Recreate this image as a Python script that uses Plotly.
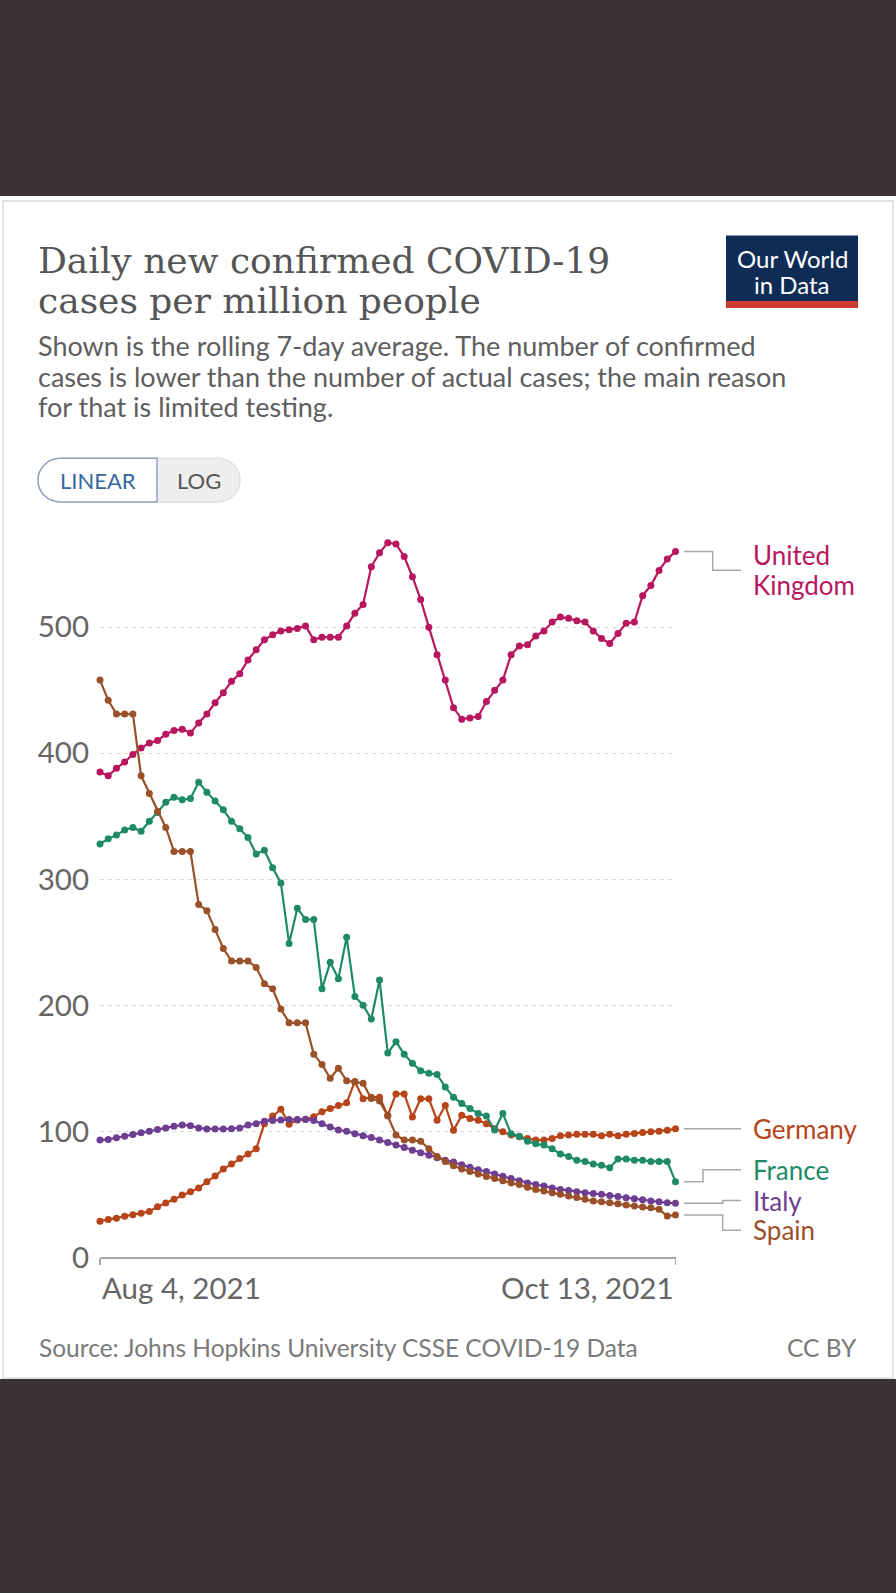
import plotly.graph_objects as go
import pandas as pd

# ---------------- data (daily new confirmed cases per million, 7-day avg) ----------------
start_date = "2021-08-04"
end_date = "2021-10-13"
dates = pd.date_range(start_date, end_date, freq="D")

countries = ["United Kingdom", "Germany", "France", "Italy", "Spain"]

united_kingdom = [385, 382, 388, 393, 399, 404, 408, 410, 415, 418,
                  419, 416, 424, 431, 440, 448, 457, 463, 474, 482,
                  490, 494, 497, 498, 499, 501, 490, 492, 492, 492,
                  501, 511, 518, 548, 559, 567, 566, 556, 540, 522,
                  500, 478, 458, 436, 427, 428, 429, 441, 450, 458,
                  478, 485, 486, 493, 497, 504, 508, 507, 505, 504,
                  497, 491, 487, 495, 503, 504, 525, 533, 545, 554,
                  560]

germany = [28.6, 30, 31, 32.5, 33.8, 35, 36.4, 40, 43, 46,
           49.4, 52, 55, 60, 64.4, 70, 74, 78.4, 82, 86,
           106, 112, 117.5, 105.5, 109, 109.5, 111.5, 115.5, 118, 120.5,
           122.5, 139.5, 125.7, 127, 127, 112.6, 129.6, 129.6, 111.3, 125.7,
           125.7, 108.7, 120.4, 100.8, 112.6, 110, 108.7, 106, 102, 99.5,
           97, 95.6, 94.3, 93, 93, 94.3, 96.4, 97, 97.6, 97.6,
           97.6, 96.4, 97.6, 96.4, 97.6, 98.2, 99, 99.5, 100, 100.8,
           102]

france = [328, 332, 335, 339, 341, 338, 346, 353, 361, 365,
          363, 364, 377, 369, 362, 355, 346, 340, 333, 320,
          323, 309, 297, 249, 277, 268, 268, 213, 234, 221,
          254, 207, 200, 189, 220, 162, 171, 161, 154, 148,
          146, 145, 135, 127, 122, 118, 114, 112, 101, 114,
          98, 96, 92, 90, 89, 86, 82, 80, 77, 76,
          74, 73, 71, 78, 78, 77, 77, 76, 76, 76,
          60]

italy = [93, 93.5, 94.8, 96, 97.4, 98.7, 100, 101.3, 102.6, 104,
         105, 104.4, 102.6, 101.8, 101.8, 101.8, 102, 102.6, 105, 106,
         108, 108.6, 109, 109.4, 109.4, 109.4, 108.6, 106, 103.4, 101,
         100, 98, 96.5, 95, 93, 91, 89, 87, 85, 83,
         81, 79, 77, 75.5, 73.3, 71.5, 69.4, 68, 66, 64.2,
         62.4, 60.8, 59, 57.7, 56.5, 55, 53.8, 53, 52, 51.2,
         50.5, 50, 49, 48.2, 47.2, 46.4, 45.6, 44.6, 44, 43.2,
         42.9]

spain = [458, 442, 431, 431, 431, 382, 368, 354, 341, 322,
         322, 322, 280, 275, 260, 245, 235, 235, 235, 230,
         217, 213, 197, 186, 186, 186, 161, 153, 142, 150,
         140, 139, 138, 126, 124, 112, 97, 93, 93, 92,
         86, 80, 76, 72.6, 70, 68, 66, 64, 62.4, 60.8,
         59, 57.7, 55.6, 53.8, 52.5, 51.2, 50, 48.7, 47.4, 46,
         44.6, 44, 43.2, 42.4, 41.4, 40.6, 39.8, 39.3, 38, 32.7,
         33.5]

y_tick_values = [0, 100, 200, 300, 400, 500]
x_tick_labels = ["Aug 4, 2021", "Oct 13, 2021"]

# ---------------- layout constants (pixels) ----------------
W, H = 896, 1593
PLOT_L, PLOT_R = 100, 675.5
PLOT_T, PLOT_B = 530, 1270
PX_PER_UNIT = 1.273
Y_MAX = (PLOT_B - PLOT_T) / PX_PER_UNIT

def X(px):
    return px / W

def Y(py):
    return 1 - py / H

def V(py):
    """pixel row -> value on the chart's y scale"""
    return (PLOT_B - py) / PX_PER_UNIT

colors = {
    "United Kingdom": "#B8175F",
    "Germany": "#B8441A",
    "France": "#1E8A68",
    "Italy": "#6D3E91",
    "Spain": "#9A5129",
}
series = {
    "United Kingdom": united_kingdom,
    "Germany": germany,
    "France": france,
    "Italy": italy,
    "Spain": spain,
}

SANS = "Lato, 'Open Sans', sans-serif"
SERIF = "'DejaVu Serif', serif"

def tight(lines, glyph_px, line_gap_px):
    """multi-line text whose glyph size and line spacing are set independently"""
    base = line_gap_px / 1.3
    txt = "<br>".join(f'<span style="font-size:{glyph_px}px">{t}</span>' for t in lines)
    return txt, base

fig = go.Figure()
for name in countries:
    fig.add_trace(go.Scatter(
        x=dates, y=series[name], name=name, mode="lines+markers",
        line=dict(color=colors[name], width=2.2),
        marker=dict(color=colors[name], size=7),
        cliponaxis=False, showlegend=False, hoverinfo="skip",
    ))

shapes = []
annotations = []

def rect(x0, y0, x1, y1, fill, line=None, lw=0):
    shapes.append(dict(type="rect", xref="paper", yref="paper",
                       x0=X(x0), x1=X(x1), y0=Y(y1), y1=Y(y0),
                       fillcolor=fill, line=dict(color=line or fill, width=lw),
                       layer="below"))

def rounded_path(x0, y0, x1, y1, rl, rr):
    k = 0.5523
    pts = []
    pts.append(f"M{X(x0+rl):.6f},{Y(y0):.6f}")
    pts.append(f"L{X(x1-rr):.6f},{Y(y0):.6f}")
    if rr:
        pts.append(f"C{X(x1-rr+k*rr):.6f},{Y(y0):.6f} {X(x1):.6f},{Y(y0+rr-k*rr):.6f} {X(x1):.6f},{Y(y0+rr):.6f}")
    pts.append(f"L{X(x1):.6f},{Y(y1-rr):.6f}")
    if rr:
        pts.append(f"C{X(x1):.6f},{Y(y1-rr+k*rr):.6f} {X(x1-rr+k*rr):.6f},{Y(y1):.6f} {X(x1-rr):.6f},{Y(y1):.6f}")
    pts.append(f"L{X(x0+rl):.6f},{Y(y1):.6f}")
    if rl:
        pts.append(f"C{X(x0+rl-k*rl):.6f},{Y(y1):.6f} {X(x0):.6f},{Y(y1-rl+k*rl):.6f} {X(x0):.6f},{Y(y1-rl):.6f}")
    pts.append(f"L{X(x0):.6f},{Y(y0+rl):.6f}")
    if rl:
        pts.append(f"C{X(x0):.6f},{Y(y0+rl-k*rl):.6f} {X(x0+rl-k*rl):.6f},{Y(y0):.6f} {X(x0+rl):.6f},{Y(y0):.6f}")
    pts.append("Z")
    return " ".join(pts)

# page / card
rect(0, 198, W, 1393, "#ffffff")
rect(3, 203, 893, 1392, "rgba(0,0,0,0)", "#e2e2e2", 2)

# OWID logo
rect(726, 238, 858, 305, "#0f2d54")
rect(726, 304, 858, 311, "#ce3b2f")
annotations.append(dict(text="Our World", x=X(792), y=Y(261), xref="paper", yref="paper",
                        showarrow=False, xanchor="center", yanchor="middle",
                        font=dict(family=SANS, size=24, color="#ffffff")))
annotations.append(dict(text="in Data", x=X(792), y=Y(287), xref="paper", yref="paper",
                        showarrow=False, xanchor="center", yanchor="middle",
                        font=dict(family=SANS, size=24, color="#ffffff")))

# title & subtitle
title_txt, title_base = tight(["Daily new confirmed COVID-19", "cases per million people"], 36, 39.5)
annotations.append(dict(text=title_txt, x=X(36), y=Y(283), xref="paper", yref="paper",
                        showarrow=False, xanchor="left", yanchor="middle", align="left",
                        font=dict(family=SERIF, size=title_base, color="#555555")))
sub_txt, sub_base = tight(["Shown is the rolling 7-day average. The number of confirmed",
                           "cases is lower than the number of actual cases; the main reason",
                           "for that is limited testing."], 27, 30.5)
annotations.append(dict(text=sub_txt, x=X(36), y=Y(380), xref="paper", yref="paper",
                        showarrow=False, xanchor="left", yanchor="middle", align="left",
                        font=dict(family=SANS, size=sub_base, color="#5e5e5e")))

# LINEAR / LOG toggle
shapes.append(dict(type="path", xref="paper", yref="paper", path=rounded_path(38, 463, 240, 507, 22, 22),
                   fillcolor="#eeeeee", line=dict(color="#e0e0e0", width=1.5), layer="below"))
shapes.append(dict(type="path", xref="paper", yref="paper", path=rounded_path(38, 463, 157, 507, 22, 0),
                   fillcolor="#ffffff", line=dict(color="#8ea3bb", width=1.5), layer="below"))
annotations.append(dict(text="LINEAR", x=X(97.5), y=Y(485), xref="paper", yref="paper",
                        showarrow=False, xanchor="center", yanchor="middle",
                        font=dict(family=SANS, size=22, color="#35679d")))
annotations.append(dict(text="LOG", x=X(199), y=Y(485), xref="paper", yref="paper",
                        showarrow=False, xanchor="center", yanchor="middle",
                        font=dict(family=SANS, size=22, color="#555555")))

# x tick labels (left/right aligned at the axis ends)
annotations.append(dict(text=x_tick_labels[0], x=dates[0], xref="x", y=Y(1301), yref="paper",
                        showarrow=False, xanchor="left", yanchor="middle",
                        font=dict(family=SANS, size=29.5, color="#666666")))
annotations.append(dict(text=x_tick_labels[1], x=dates[-1], xref="x", y=Y(1301), yref="paper",
                        showarrow=False, xanchor="right", yanchor="middle",
                        font=dict(family=SANS, size=29.5, color="#666666")))

# end-of-line labels with connectors
label_x = 751
conn_start, conn_end = 684, 741
label_layout = {
    "United Kingdom": dict(bend=712.7, value=V(576)),
    "Germany": dict(bend=712.7, value=None),
    "France": dict(bend=703, value=V(1181.7)),
    "Italy": dict(bend=722.7, value=V(1212.7)),
    "Spain": dict(bend=722.7, value=V(1242.7)),
}
for name in countries:
    last = series[name][-1]
    lv = label_layout[name]["value"]
    if lv is None:
        lv = last
    bx = label_layout[name]["bend"]
    path = (f"M{X(conn_start):.6f},{last} L{X(bx):.6f},{last} "
            f"L{X(bx):.6f},{lv} L{X(conn_end):.6f},{lv}")
    shapes.append(dict(type="path", xref="paper", yref="y", path=path,
                       line=dict(color="#a8a8a8", width=1.5), layer="above"))
    if name == "United Kingdom":
        uk_txt, uk_base = tight(["United", "Kingdom"], 26, 30)
        annotations.append(dict(text=uk_txt, x=X(label_x), xref="paper", y=lv, yref="y",
                                showarrow=False, xanchor="left", yanchor="middle", align="left",
                                font=dict(family=SANS, size=uk_base, color=colors[name])))
    else:
        annotations.append(dict(text=name, x=X(label_x), xref="paper", y=lv, yref="y",
                                showarrow=False, xanchor="left", yanchor="middle",
                                font=dict(family=SANS, size=26, color=colors[name])))

# source / licence
annotations.append(dict(text="Source: Johns Hopkins University CSSE COVID-19 Data", x=X(37), y=Y(1361),
                        xref="paper", yref="paper", showarrow=False, xanchor="left", yanchor="middle",
                        font=dict(family=SANS, size=24.5, color="#7a7a7a")))
annotations.append(dict(text="CC BY", x=X(859), y=Y(1361),
                        xref="paper", yref="paper", showarrow=False, xanchor="right", yanchor="middle",
                        font=dict(family=SANS, size=24.5, color="#7a7a7a")))

fig.update_layout(
    width=W, height=H,
    margin=dict(l=0, r=0, t=0, b=0, pad=0),
    paper_bgcolor="#3b3136",
    plot_bgcolor="rgba(0,0,0,0)",
    shapes=shapes,
    annotations=annotations,
    xaxis=dict(
        domain=[X(PLOT_L), X(PLOT_R)],
        range=[dates[0], dates[-1]],
        type="date",
        showgrid=False, zeroline=False,
        showline=True, linecolor="#a6a6a6", linewidth=1.5,
        ticks="outside", ticklen=6, tickwidth=1.5, tickcolor="#a6a6a6",
        tickvals=[dates[0], dates[-1]], showticklabels=False,
        fixedrange=True,
    ),
    yaxis=dict(
        domain=[Y(PLOT_B), Y(PLOT_T)],
        range=[0, Y_MAX],
        tickvals=y_tick_values,
        ticks="", showline=False, zeroline=False,
        showgrid=True, gridcolor="#d9d9d9", gridwidth=1, griddash="4px,4px",
        tickfont=dict(family=SANS, size=29.5, color="#666666"),
        ticklabelstandoff=10,
        fixedrange=True,
    ),
)

fig.write_html(
    "out.html",
    config={"displayModeBar": False, "staticPlot": True},
    post_script="document.body.style.margin='0px';document.body.style.overflow='hidden';"
                "document.body.style.background='#3b3136';",
)
